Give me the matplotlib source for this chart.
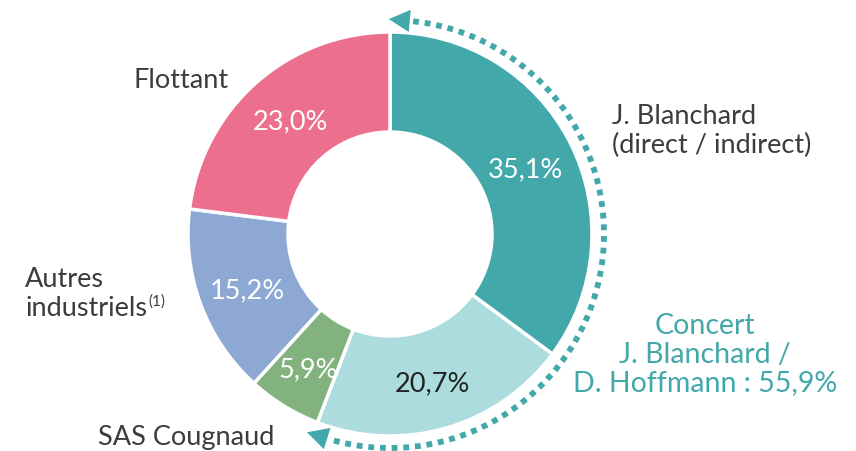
import numpy as np
import matplotlib.pyplot as plt

# -----------------------
# DATA
# -----------------------
labels = ["J. Blanchard\n(direct / indirect)", "", "SAS Cougnaud", "Autres\nindustriels", "Flottant"]
shares = [35.1, 20.7, 5.9, 15.2, 23.0]
pct_labels = ["35,1%", "20,7%", "5,9%", "15,2%", "23,0%"]
concert_text = "Concert\nJ. Blanchard /\nD. Hoffmann : 55,9%"

colors = ["#43a8aa", "#acdcdd", "#82b27d", "#8ca8d3", "#ec6f8d"]
pct_colors = ["white", "#222222", "white", "white", "white"]
TEAL = "#43a8aa"
GREY = "#3c3c3c"

plt.rcParams["font.family"] = ["Lato", "DejaVu Sans"]

# -----------------------
# FIGURE (pixel coordinates, y up)
# -----------------------
W, H = 856, 452
fig = plt.figure(figsize=(W / 100, H / 100), dpi=100)
ax = fig.add_axes([0, 0, 1, 1])

cx, cy = 390, H - 235
R, r_in = 202, 102

ax.pie(shares, colors=colors, startangle=90, counterclock=False,
       center=(cx, cy), radius=R, frame=True,
       wedgeprops=dict(width=R - r_in, edgecolor="white", linewidth=2.5))
ax.set_xlim(0, W)
ax.set_ylim(0, H)
ax.set_aspect("equal")
ax.axis("off")

# percentage labels inside the ring
pct_pos = [(525, 170), (432, 384), (308, 370), (247, 291), (290, 122)]
for (x, y), t, c in zip(pct_pos, pct_labels, pct_colors):
    ax.text(x, H - y, t, color=c, fontsize=19.5, ha="center", va="center")

# category labels
FS = 19.5
ax.text(133, H - 80, "Flottant", color=GREY, fontsize=FS, ha="left", va="center")
ax.text(612, H - 131, labels[0], color=GREY, fontsize=FS, ha="left", va="center",
        linespacing=1.18)
ax.text(98, H - 438, labels[2], color=GREY, fontsize=FS, ha="left", va="center")
t_aut = ax.text(25, H - 294, labels[3], color=GREY, fontsize=FS, ha="left",
                va="center", linespacing=1.18)
fig.canvas.draw()
bb = t_aut.get_window_extent(fig.canvas.get_renderer())
ax.text(bb.x1 + 1, H - 302, "(1)", color=GREY, fontsize=11, ha="left", va="center")

ax.text(705, H - 355, concert_text, color=TEAL, fontsize=20.5, ha="center",
        va="center", linespacing=1.12)

# -----------------------
# DOTTED CONCERT ARC
# -----------------------
Ra = 214
a0 = 85
a1 = 90 - 3.6 * (shares[0] + shares[1]) + 3.5
th = np.radians(np.linspace(a0 - 1.2, a1 + 1.2, 300))
ax.plot(cx + Ra * np.cos(th), cy + Ra * np.sin(th), color=TEAL, lw=4.2,
        linestyle=(0, (1.0, 1.0)), dash_capstyle="butt")

for a_end, a_dir in [(a0, 1), (a1, -1)]:
    ae = np.radians(a_end)
    base = np.array([cx + Ra * np.cos(ae), cy + Ra * np.sin(ae)])
    tang = a_dir * np.array([-np.sin(ae), np.cos(ae)])
    tip = base + tang * 20
    ax.annotate("", xy=tip, xytext=base,
                arrowprops=dict(arrowstyle="-|>,head_length=0.95,head_width=0.5",
                                color=TEAL, lw=0, mutation_scale=16,
                                shrinkA=0, shrinkB=0))

fig.savefig("out.png", dpi=100)
